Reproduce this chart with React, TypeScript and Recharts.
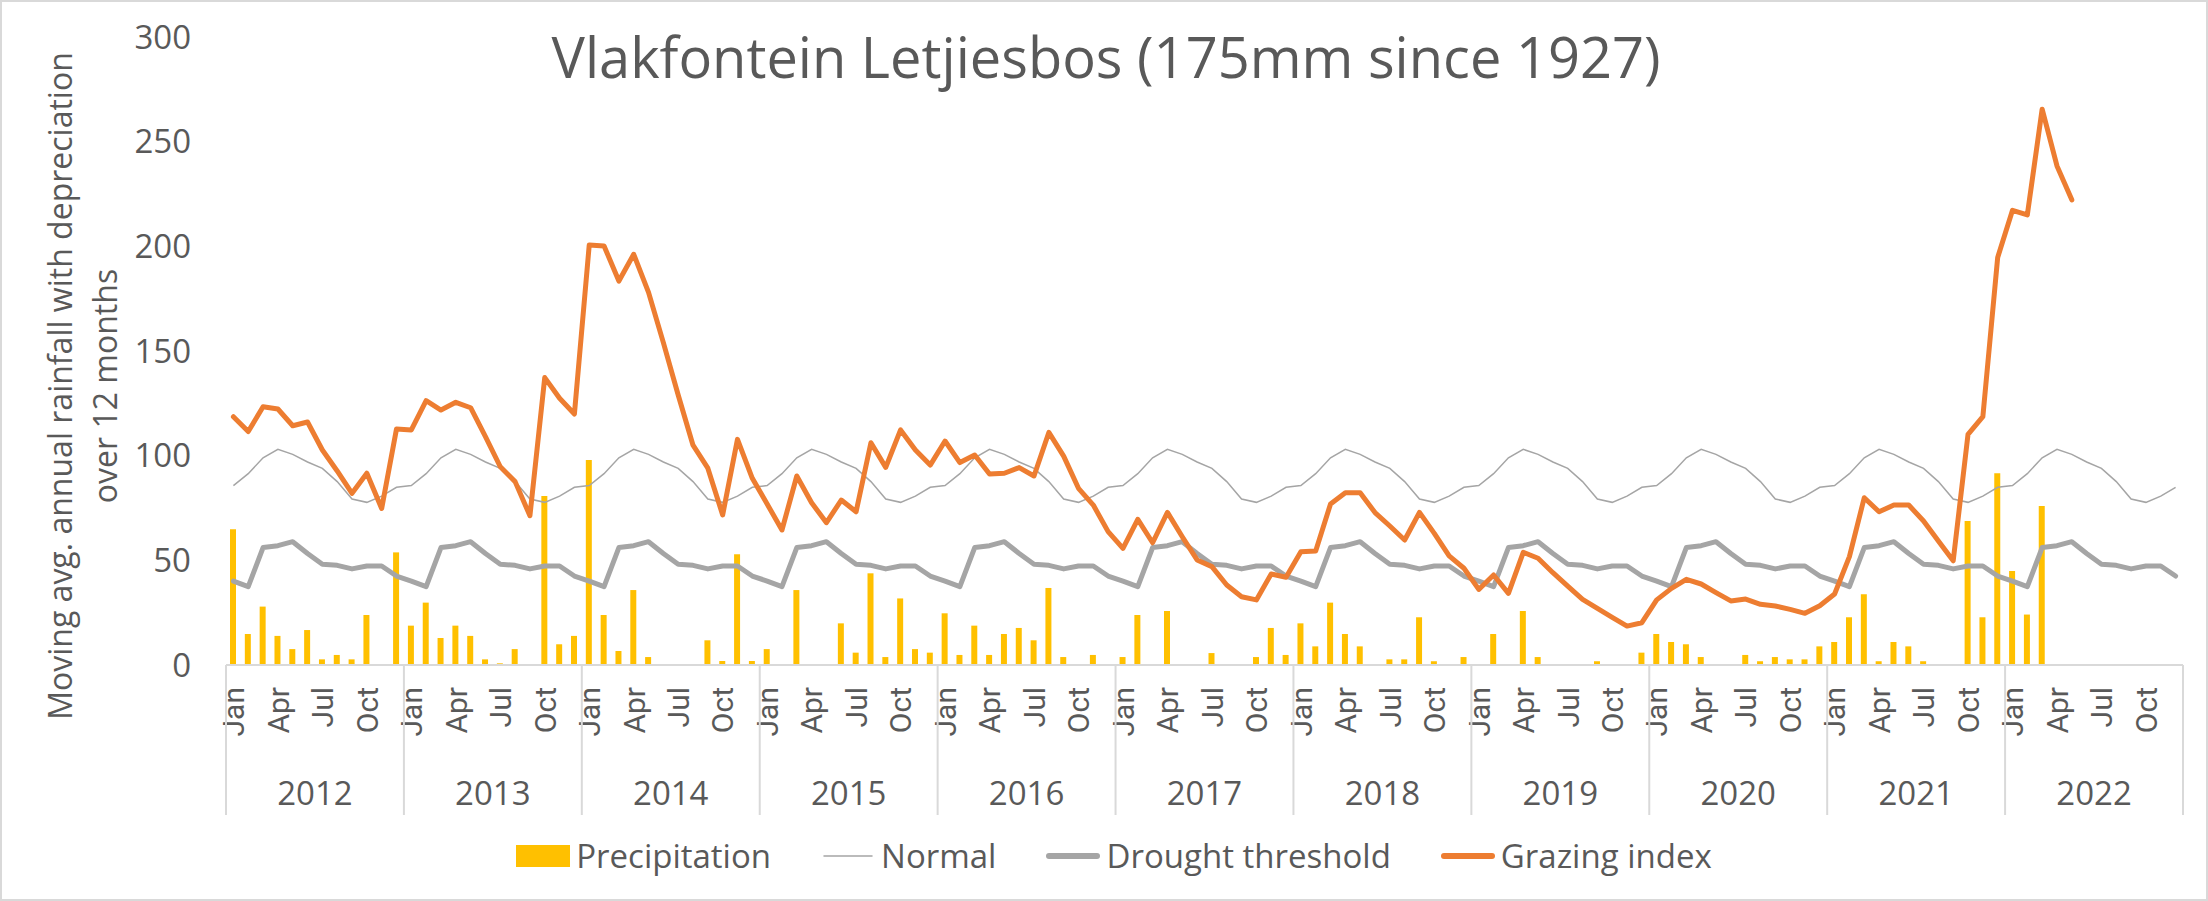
import React from 'react';
import { ComposedChart, Bar, Line, XAxis, YAxis, Legend } from 'recharts';

const years = [2012, 2013, 2014, 2015, 2016, 2017, 2018, 2019, 2020, 2021, 2022];
const monthNames = ['Jan', 'Feb', 'Mar', 'Apr', 'May', 'Jun', 'Jul', 'Aug', 'Sep', 'Oct', 'Nov', 'Dec'];
const labelledMonths = ['Jan', 'Apr', 'Jul', 'Oct'];
const yTicks = [0, 50, 100, 150, 200, 250, 300];

// monthly rainfall, Jan 2012 .. Mar 2022
const precipitation = [
  64.8, 14.8, 27.9, 13.9, 7.6, 16.7, 2.7, 4.8, 2.7, 23.9, 0, 53.8,
  18.8, 29.8, 12.9, 18.8, 13.9, 2.7, 0.8, 7.6, 0, 80.7, 9.9, 13.9,
  97.9, 23.9, 6.7, 35.8, 3.8, 0, 0, 0, 11.8, 1.9, 52.9, 1.9,
  7.6, 0, 35.8, 0, 0, 19.9, 5.9, 43.8, 3.8, 31.8, 7.6, 5.9,
  24.7, 4.8, 18.8, 4.8, 14.8, 17.7, 11.8, 36.8, 3.8, 0, 4.8, 0,
  3.8, 23.9, 0, 25.8, 0, 0, 5.7, 0, 0, 3.8, 17.7, 4.8,
  19.9, 8.9, 29.8, 14.8, 8.9, 0, 2.7, 2.7, 22.8, 1.8, 0, 3.8,
  0, 14.8, 0, 25.8, 3.8, 0, 0, 0, 1.8, 0, 0, 5.9,
  14.8, 11.0, 9.9, 3.8, 0, 0, 4.8, 1.8, 3.8, 2.7, 2.7, 8.9,
  11.0, 22.8, 33.8, 1.8, 11.0, 8.9, 1.8, 0, 0, 68.8, 22.8, 91.6,
  44.9, 24.1, 75.9,
];

// grazing index, Jan 2012 .. May 2022
const grazingIndex = [
  118.6, 111.5, 123.4, 122.3, 114.3, 116.1, 102.7, 92.7, 82.0, 91.6, 74.8, 112.7,
  112.3, 126.3, 121.8, 125.5, 122.9, 109.1, 94.7, 87.6, 71.3, 137.3, 127.4, 119.9,
  200.6, 200.2, 183.4, 196.2, 178.0, 154.0, 129.0, 105.0, 94.0, 71.7, 107.8, 89.2,
  76.9, 64.5, 90.3, 77.5, 68.0, 78.8, 73.2, 106.2, 94.4, 112.3, 102.7, 95.5,
  107.0, 96.7, 100.3, 91.2, 91.6, 94.3, 90.3, 111.1, 99.8, 84.4, 76.4, 63.7,
  55.7, 69.6, 58.4, 72.9, 61.3, 50.2, 47.0, 38.2, 32.6, 31.1, 43.5, 41.9,
  54.1, 54.5, 76.9, 82.3, 82.3, 72.8, 66.4, 59.7, 72.9, 62.9, 52.1, 46.2,
  36.1, 43.0, 34.2, 53.8, 51.0, 44.1, 37.7, 31.4, 27.1, 22.8, 18.6, 20.2,
  31.1, 36.6, 40.9, 38.7, 34.6, 30.6, 31.5, 29.0, 28.2, 26.6, 24.7, 28.3,
  33.9, 51.8, 79.9, 73.2, 76.4, 76.4, 68.8, 59.2, 49.8, 110.2, 118.6, 194.7,
  217.2, 215.0, 265.5, 238.4, 222.2,
];

// long-term monthly values, the same every year
const normalByMonth = [85.7, 91.4, 99.0, 103.0, 100.6, 97.0, 93.9, 87.6, 79.3, 77.7, 80.7, 84.9];
const droughtByMonth = [40.1, 37.4, 56.1, 57.0, 58.9, 53.3, 48.1, 47.6, 45.9, 47.3, 47.3, 42.5];

const data = years.flatMap((year, yi) =>
  monthNames.map((month, mi) => {
    const i = yi * 12 + mi;
    return {
      key: `${month} ${year}`,
      precipitation: precipitation[i] ?? null,
      normal: normalByMonth[mi],
      drought: droughtByMonth[mi],
      grazing: grazingIndex[i] ?? null,
    };
  })
);

const TEXT = '#595959';
const RULE = '#D9D9D9';
const W = 2208;
const H = 901;
const PLOT_LEFT = 226;
const PLOT_RIGHT = 2183;
const BAND = (PLOT_RIGHT - PLOT_LEFT) / data.length;

const MonthTick = (props: any) => {
  const { x, y, payload } = props;
  const [month, year] = String(payload.value).split(' ');
  const last = payload.index === data.length - 1;
  const ly = y + 22;
  return (
    <g>
      {labelledMonths.includes(month) && (
        <text
          x={x}
          y={ly}
          transform={`rotate(-90 ${x} ${ly})`}
          textAnchor="end"
          dy="0.36em"
          fill={TEXT}
          style={{ fontFamily: 'Roboto, sans-serif', fontSize: 30 }}
        >
          {month}
        </text>
      )}
      {month === 'Jan' && (
        <>
          <line x1={x - BAND / 2} x2={x - BAND / 2} y1={y} y2={y + 150} stroke={RULE} strokeWidth={2} />
          <text x={x - BAND / 2 + BAND * 6} y={y + 140} textAnchor="middle" fill={TEXT} fontSize={33}>
            {year}
          </text>
        </>
      )}
      {last && <line x1={x + BAND / 2} x2={x + BAND / 2} y1={y} y2={y + 150} stroke={RULE} strokeWidth={2} />}
    </g>
  );
};

const YTitle = () => (
  <g fill={TEXT} fontSize={32}>
    <text transform="rotate(-90)" x={-386} y={72} textAnchor="middle">
      Moving avg. annual rainfall with depreciation
    </text>
    <text transform="rotate(-90)" x={-386} y={117} textAnchor="middle">
      over 12 months
    </text>
  </g>
);

const legendItems = [
  { label: 'Precipitation', color: '#FFC000', kind: 'box', width: 0 },
  { label: 'Normal', color: '#A5A5A5', kind: 'line', width: 1.5 },
  { label: 'Drought threshold', color: '#A5A5A5', kind: 'line', width: 6 },
  { label: 'Grazing index', color: '#ED7D31', kind: 'line', width: 6 },
];

const renderLegend = () => (
  <div style={{ display: 'flex', justifyContent: 'center', alignItems: 'center', height: 40, paddingLeft: 20 }}>
    {legendItems.map((item, k) => (
      <div key={item.label} style={{ display: 'flex', alignItems: 'center', marginLeft: k ? 50 : 0 }}>
        <svg width={54} height={24}>
          {item.kind === 'box' ? (
            <rect x={0} y={1} width={54} height={22} fill={item.color} />
          ) : (
            <line x1={3} x2={51} y1={12} y2={12} stroke={item.color} strokeWidth={item.width} strokeLinecap="round" />
          )}
        </svg>
        <span style={{ marginLeft: 6, fontSize: 33, color: TEXT, lineHeight: '40px' }}>{item.label}</span>
      </div>
    ))}
  </div>
);

export default function App() {
  return (
    <div
      style={{
        position: 'absolute',
        left: 0,
        top: 0,
        width: W,
        height: H,
        background: '#fff',
        fontFamily: '"Open Sans", sans-serif',
        border: `2px solid ${RULE}`,
        boxSizing: 'border-box',
      }}
    >
      <div
        style={{
          position: 'absolute',
          top: 26,
          left: 0,
          width: W,
          textAlign: 'center',
          fontSize: 56,
          lineHeight: '56px',
          color: TEXT,
        }}
      >
        Vlakfontein Letjiesbos (175mm since 1927)
      </div>
      <div style={{ position: 'absolute', left: -2, top: -2 }}>
        <ComposedChart width={W} height={H} data={data} margin={{ top: 37, right: W - PLOT_RIGHT, bottom: 0, left: 0 }}>
          <XAxis
            dataKey="key"
            interval={0}
            tickLine={false}
            tickSize={0}
            tickMargin={0}
            axisLine={{ stroke: RULE, strokeWidth: 2 }}
            height={196}
            tick={<MonthTick />}
          />
          <YAxis
            domain={[0, 300]}
            ticks={yTicks}
            interval={0}
            width={PLOT_LEFT}
            axisLine={false}
            tickLine={false}
            tickSize={0}
            tickMargin={35}
            tick={{ fill: TEXT, fontSize: 33 }}
            label={<YTitle />}
          />
          <Legend verticalAlign="bottom" content={renderLegend} wrapperStyle={{ left: 0, width: W, bottom: 25, height: 40 }} />
          <Bar dataKey="precipitation" name="Precipitation" fill="#FFC000" barSize={6} isAnimationActive={false} />
          <Line dataKey="normal" name="Normal" stroke="#A5A5A5" strokeWidth={1.5} dot={false} activeDot={false} isAnimationActive={false} />
          <Line dataKey="drought" name="Drought threshold" stroke="#A5A5A5" strokeWidth={5} strokeLinecap="round" strokeLinejoin="round" dot={false} activeDot={false} isAnimationActive={false} />
          <Line dataKey="grazing" name="Grazing index" stroke="#ED7D31" strokeWidth={5} strokeLinecap="round" strokeLinejoin="round" dot={false} activeDot={false} isAnimationActive={false} />
        </ComposedChart>
      </div>
    </div>
  );
}
